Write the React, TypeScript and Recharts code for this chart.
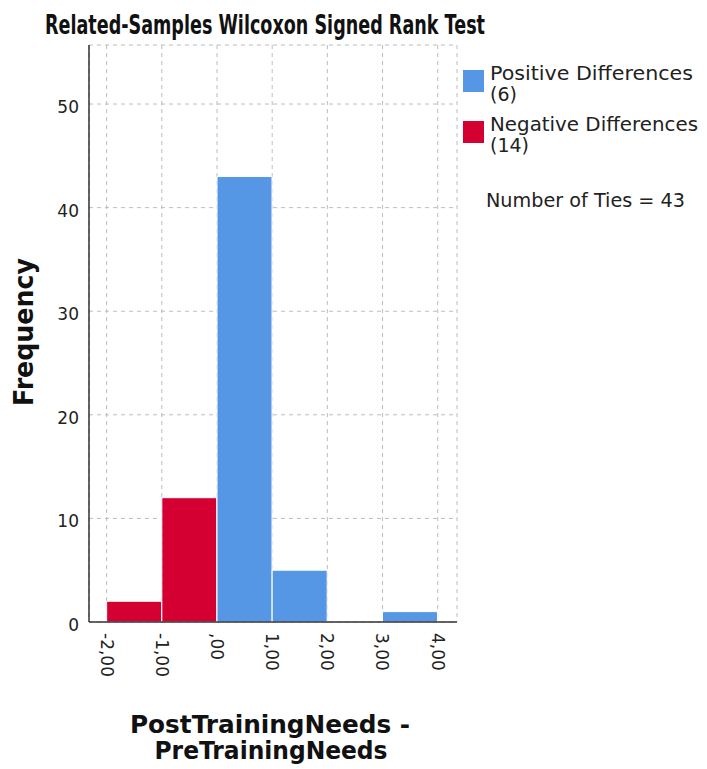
import React from 'react';
import { ComposedChart, Bar, XAxis, YAxis, CartesianGrid, Cell, Customized } from 'recharts';

const binCenters = [-1.5, -0.5, 0.5, 1.5, 2.5, 3.5];
const frequencies = [2, 12, 43, 5, 0, 1];
const binSigns = ['neg', 'neg', 'pos', 'pos', 'pos', 'pos'];
const xTicks = [-2, -1, 0, 1, 2, 3, 4];
const xTickLabels = ['-2,00', '-1,00', ',00', '1,00', '2,00', '3,00', '4,00'];
const yTicks = [0, 10, 20, 30, 40, 50];
const legendLabels = ['Positive Differences', 'Negative Differences'];
const legendCounts = [6, 14];
const numberOfTies = 43;
const titleText = 'Related-Samples Wilcoxon Signed Rank Test';
const yAxisTitle = 'Frequency';
const xAxisTitleLines = ['PostTrainingNeeds -', 'PreTrainingNeeds'];

const COLORS: Record<string, string> = { pos: '#5596E5', neg: '#D50032' };
const FONT = '"DejaVu Sans", Verdana, sans-serif';

const data = binCenters.map((x, i) => ({ x, freq: frequencies[i], sign: binSigns[i] }));

const XTick = (props: any) => {
  const { x, y, payload } = props;
  const idx = xTicks.indexOf(payload.value);
  return (
    <g transform={`translate(${x},${y + 3})`}>
      <text transform="rotate(90)" x={0} y={0} dy="0.36em" textAnchor="start" fontSize={17} fill="#222" fontFamily={FONT}>
        {xTickLabels[idx]}
      </text>
    </g>
  );
};

const Decorations = () => (
  <g fontFamily={FONT}>
    <text x={265} y={34} textAnchor="middle" fontSize={26} fontWeight="bold" fill="#111" textLength={440} lengthAdjust="spacingAndGlyphs">
      {titleText}
    </text>
    <text transform="translate(33,332) rotate(-90)" textAnchor="middle" fontSize={26} fontWeight="bold" fill="#111" textLength={148} lengthAdjust="spacingAndGlyphs">
      {yAxisTitle}
    </text>
    <text x={270} y={733} textAnchor="middle" fontSize={24} fontWeight="bold" fill="#111" textLength={280} lengthAdjust="spacingAndGlyphs">
      {xAxisTitleLines[0]}
    </text>
    <text x={271} y={759} textAnchor="middle" fontSize={24} fontWeight="bold" fill="#111" textLength={233} lengthAdjust="spacingAndGlyphs">
      {xAxisTitleLines[1]}
    </text>
    <rect x={463} y={70} width={21} height={22} fill={COLORS.pos} />
    <text x={490} y={80} fontSize={19} fill="#222" textLength={203} lengthAdjust="spacingAndGlyphs">{legendLabels[0]}</text>
    <text x={490} y={101} fontSize={19} fill="#222">({legendCounts[0]})</text>
    <rect x={463} y={121} width={21} height={22} fill={COLORS.neg} />
    <text x={490} y={131} fontSize={19} fill="#222" textLength={208} lengthAdjust="spacingAndGlyphs">{legendLabels[1]}</text>
    <text x={490} y={152} fontSize={19} fill="#222">({legendCounts[1]})</text>
    <text x={486} y={207} fontSize={19} fill="#222" textLength={199} lengthAdjust="spacingAndGlyphs">Number of Ties = {numberOfTies}</text>
  </g>
);

export default function App() {
  return (
    <div style={{ position: 'absolute', left: 0, top: 0, background: '#fff' }}>
      <ComposedChart
        width={707}
        height={769}
        data={data}
        margin={{ top: 45, right: 250, bottom: 0, left: 0 }}
        barCategoryGap={0}
        barGap={0}
      >
        <CartesianGrid strokeDasharray="4 4" stroke="#bdbdbd" />
        <XAxis
          type="number"
          dataKey="x"
          domain={[-2.32, 4.35]}
          ticks={xTicks}
          allowDataOverflow
          height={147}
          tickLine={false}
          axisLine={{ stroke: '#333', strokeWidth: 1.5 }}
          tick={<XTick />}
          interval={0}
        />
        <YAxis
          type="number"
          domain={[0, 55.7]}
          ticks={yTicks}
          allowDataOverflow
          width={89}
          tickLine={false}
          tickMargin={4}
          axisLine={{ stroke: '#333', strokeWidth: 1.5 }}
          tick={{ fontSize: 17, fill: '#222', fontFamily: FONT, dy: 3 }}
          interval={0}
        />
        <Bar dataKey="freq" isAnimationActive={false} stroke="#fff" strokeWidth={1}>
          {data.map((d, i) => (
            <Cell key={i} fill={COLORS[d.sign]} />
          ))}
        </Bar>
        <Customized component={Decorations} />
      </ComposedChart>
    </div>
  );
}
